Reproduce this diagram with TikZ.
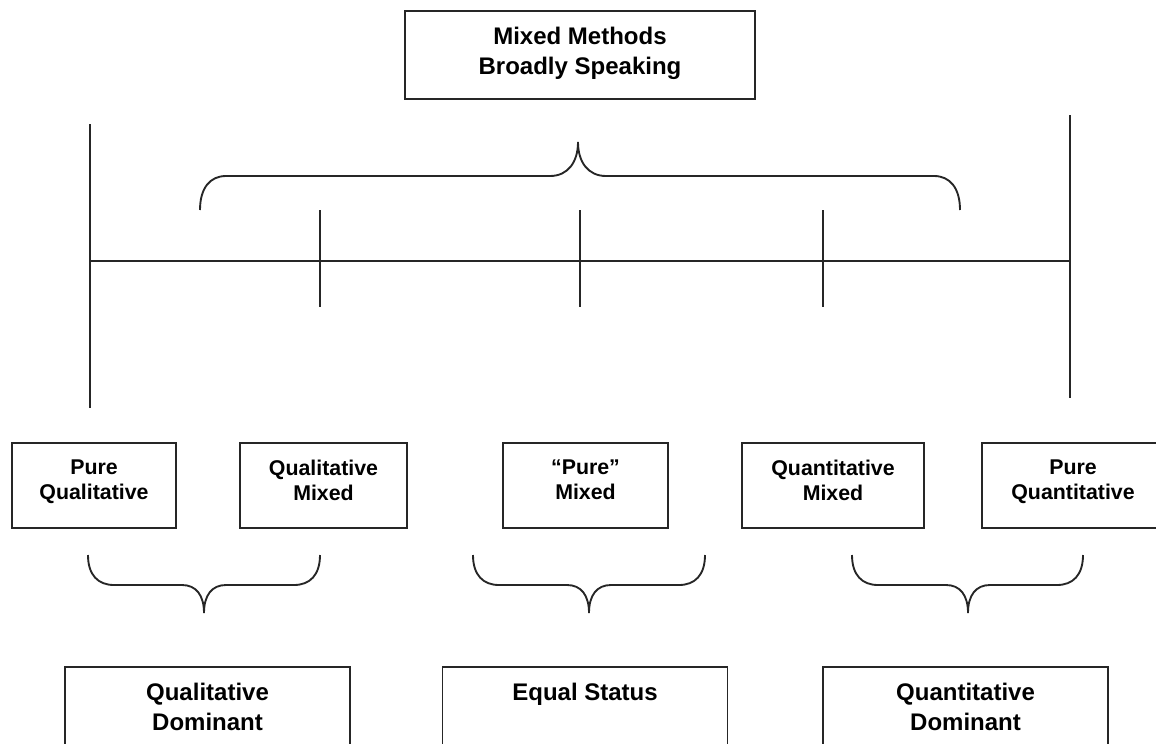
\documentclass[tikz,border=0pt]{standalone}
\usepackage{fontspec}
\setmainfont{Liberation Sans}
\usetikzlibrary{positioning}
\tikzstyle{line}=[draw=black!85, line width=1.4pt]
\tikzstyle{box}=[rectangle, draw=black!85, line width=1.4pt, inner sep=0pt, anchor=north]
\tikzstyle{mid}=[box, minimum height=63.75pt]
\tikzstyle{low}=[box, minimum width=213.75pt, minimum height=100pt]
\tikzstyle{txt}=[align=center, inner sep=0pt, font=\bfseries\fontsize{18}{22.5}\selectfont]
\tikzstyle{stxt}=[txt, font=\bfseries\fontsize{16}{18.75}\selectfont]

\begin{document}
\begin{tikzpicture}[x=0.75pt, y=-0.75pt]
	\useasboundingbox (0,0) rectangle (1156,743);
	\clip (0,0) rectangle (1156,743);

	%The top box
	\draw (580,10) node[box, minimum width=262.5pt, minimum height=66pt] (mm) {};
	\node[txt, below=12.75pt of mm.north] (mm-t) {Mixed Methods\\Broadly Speaking};

	%The continuum
	\coordinate (left) at (90,261);
	\coordinate (right) at (1070,261);
	\draw[line] (90,124) -- (90,408);
	\draw[line] (1070,115) -- (1070,398);
	\draw[line] (left) -- (right);
	\draw[line] (320,210) -- (320,307);
	\draw[line] (580,210) -- (580,307);
	\draw[line] (823,210) -- (823,307);

	%The big brace
	\draw[line] (200,210) .. controls +(0,-22) and +(-16,0) .. (226,176) -- (550,176)
		.. controls +(18,0) and +(0,20) .. (578,142)
		.. controls +(0,20) and +(-18,0) .. (606,176) -- (934,176)
		.. controls +(16,0) and +(0,-22) .. (960,210);

	%The five types
	\draw (94,442) node[mid, minimum width=123pt] (pqual) {};
	\draw (323.5,442) node[mid, minimum width=125.25pt] (qualmix) {};
	\draw (585.5,442) node[mid, minimum width=123.75pt] (puremix) {};
	\draw (833,442) node[mid, minimum width=136.5pt] (quantmix) {};
	\draw (1073,442) node[mid, minimum width=136.5pt] (pquant) {};

	\node[stxt, below=13.5pt of pqual.north] (pqual-t) {Pure\\Qualitative};
	\node[stxt, below=13.5pt of qualmix.north] (qualmix-t) {Qualitative\\Mixed};
	\node[stxt, below=13.5pt of puremix.north] (puremix-t) {“Pure”\\Mixed};
	\node[stxt, below=13.5pt of quantmix.north] (quantmix-t) {Quantitative\\Mixed};
	\node[stxt, below=13.5pt of pquant.north] (pquant-t) {Pure\\Quantitative};

	%The small braces
	\draw[line] (88,555) .. controls +(0,20) and +(-16,0) .. (114,585) -- (182,585)
		.. controls +(14,0) and +(0,-18) .. (204,613)
		.. controls +(0,-18) and +(-14,0) .. (226,585) -- (294,585)
		.. controls +(16,0) and +(0,20) .. (320,555);
	\draw[line] (473,555) .. controls +(0,20) and +(-16,0) .. (499,585) -- (567,585)
		.. controls +(14,0) and +(0,-18) .. (589,613)
		.. controls +(0,-18) and +(-14,0) .. (611,585) -- (679,585)
		.. controls +(16,0) and +(0,20) .. (705,555);
	\draw[line] (852,555) .. controls +(0,20) and +(-16,0) .. (878,585) -- (946,585)
		.. controls +(14,0) and +(0,-18) .. (968,613)
		.. controls +(0,-18) and +(-14,0) .. (990,585) -- (1057,585)
		.. controls +(16,0) and +(0,20) .. (1083,555);

	%The three groups
	\draw (207.5,666) node[low] (qualdom) {};
	\draw (585,666) node[low] (equal) {};
	\draw (965.5,666) node[low] (quantdom) {};

	\node[txt, below=12.75pt of qualdom.north] (qualdom-t) {Qualitative\\Dominant};
	\node[txt, below=12.75pt of equal.north] (equal-t) {Equal Status};
	\node[txt, below=12.75pt of quantdom.north] (quantdom-t) {Quantitative\\Dominant};
\end{tikzpicture}
\end{document}
